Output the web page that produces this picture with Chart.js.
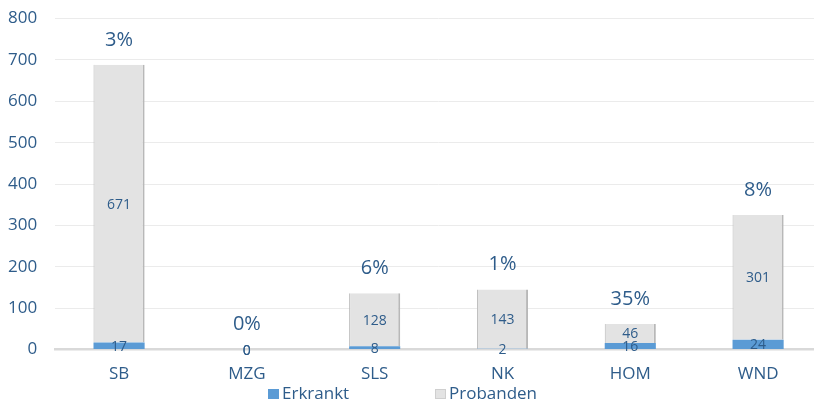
<!DOCTYPE html>
<html>
<head>
<meta charset="utf-8">
<script src="https://cdn.jsdelivr.net/npm/chart.js@4.4.1/dist/chart.umd.min.js"></script>
<style>
  html, body { margin: 0; padding: 0; background: #ffffff; overflow: hidden; width: 814px; height: 403px; }
  #wrap { position: absolute; left: 0; top: 0; width: 822px; height: 403px; }
</style>
</head>
<body>
<div id="wrap"><canvas id="c" width="822" height="403"></canvas></div>
<script>
const categories = ['SB', 'MZG', 'SLS', 'NK', 'HOM', 'WND'];
const erkrankt = [17, 0, 8, 2, 16, 24];
const probanden = [671, 0, 128, 143, 46, 301];
const percentLabels = ['3%', '0%', '6%', '1%', '35%', '8%'];
const yTicks = [0, 100, 200, 300, 400, 500, 600, 700, 800];

const TEXT = '#2E5C8A';
const FONT = "'Open Sans', 'Liberation Sans', sans-serif";

const labelPlugin = {
  id: 'valueLabels',
  afterDatasetsDraw(chart) {
    const ctx = chart.ctx;
    ctx.save();
    ctx.fillStyle = TEXT;
    ctx.textAlign = 'center';
    ctx.textBaseline = 'middle';
    ctx.font = "14px " + FONT;
    chart.data.datasets.forEach((ds, di) => {
      const meta = chart.getDatasetMeta(di);
      meta.data.forEach((bar, i) => {
        const cy = (bar.y + bar.base) / 2;
        ctx.fillText(String(ds.data[i]), bar.x, cy + 1);
      });
    });
    const topMeta = chart.getDatasetMeta(chart.data.datasets.length - 1);
    ctx.font = "20px " + FONT;
    topMeta.data.forEach((bar, i) => {
      ctx.fillText(percentLabels[i], bar.x, Math.min(bar.y, bar.base) - 25);
    });
    ctx.restore();
  }
};

const legendPlugin = {
  id: 'customLegend',
  afterDraw(chart) {
    const ctx = chart.ctx;
    const items = [
      { x: 268, ds: chart.data.datasets[0] },
      { x: 435, ds: chart.data.datasets[1] }
    ];
    const cy = 394;
    ctx.save();
    ctx.font = "17px " + FONT;
    ctx.textBaseline = 'middle';
    ctx.textAlign = 'left';
    items.forEach(it => {
      ctx.fillStyle = it.ds.backgroundColor;
      ctx.fillRect(it.x, cy - 5, 11, 10);
      if (it.ds.legendBorder) {
        ctx.strokeStyle = it.ds.legendBorder;
        ctx.lineWidth = 1;
        ctx.strokeRect(it.x + 0.5, cy - 4.5, 10, 9);
      }
      ctx.fillStyle = TEXT;
      ctx.fillText(it.ds.label, it.x + 14, cy);
    });
    ctx.restore();
  }
};

new Chart(document.getElementById('c'), {
  type: 'bar',
  data: {
    labels: categories,
    datasets: [
      {
        label: 'Erkrankt',
        data: erkrankt,
        backgroundColor: '#5B9BD5',
        borderWidth: 0
      },
      {
        label: 'Probanden',
        data: probanden,
        backgroundColor: '#E3E3E3',
        borderColor: '#B8B8B8',
        borderWidth: { left: 1, right: 2, top: 0, bottom: 0 },
        borderSkipped: 'bottom',
        legendBorder: '#CFCFCF'
      }
    ]
  },
  options: {
    responsive: false,
    animation: false,
    devicePixelRatio: 1,
    layout: { padding: { left: 7, top: 18.5, right: 0, bottom: 5 } },
    datasets: { bar: { barPercentage: 0.4, categoryPercentage: 1.0 } },
    plugins: {
      legend: { display: false },
      tooltip: { enabled: false }
    },
    scales: {
      x: {
        stacked: true,
        grid: { display: false, drawTicks: false },
        border: { display: true, color: '#D9D9D9', width: 2.5 },
        ticks: { color: TEXT, font: { family: FONT, size: 17 }, padding: 14 }
      },
      y: {
        stacked: true,
        min: 0,
        max: 800,
        afterBuildTicks(scale) { scale.ticks = yTicks.map(v => ({ value: v })); },
        grid: { color: '#EBEBEB', lineWidth: 1, drawTicks: true, tickLength: 17, tickColor: 'rgba(0,0,0,0)' },
        border: { display: false },
        ticks: { color: TEXT, font: { family: FONT, size: 17 }, padding: 1 }
      }
    }
  },
  plugins: [labelPlugin, legendPlugin]
});
</script>
</body>
</html>
